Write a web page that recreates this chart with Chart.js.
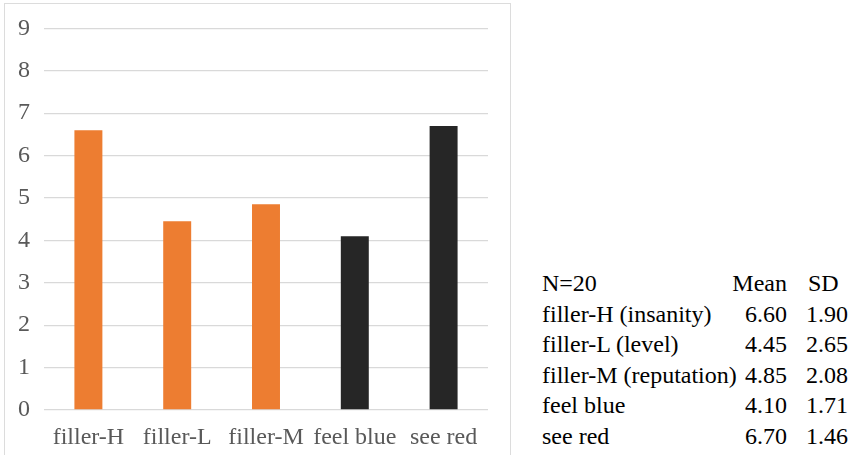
<!DOCTYPE html>
<html>
<head>
<meta charset="utf-8">
<script src="https://cdn.jsdelivr.net/npm/chart.js@4"></script>
<style>
    html, body { margin: 0; padding: 0; background: #fff; overflow: hidden; }
    body { font-family: "Liberation Serif", "Times New Roman", serif; }
    #frame {
        position: absolute; left: 4px; top: 3px;
        width: 505px; height: 480px;
        border: 1.5px solid #dcdcdc;
    }
    #chart_container { position: absolute; left: 0; top: 0; width: 512px; height: 455px; }
    .row {
        position: absolute; left: 542px; width: 312px;
        height: 30px; line-height: 30px; font-size: 24px; color: #000;
    }
    .row span { position: absolute; top: 0; white-space: nowrap; }
</style>
</head>
<body>
<div id="frame"></div>
<div id="chart_container"><canvas id="myChart" width="512" height="455"></canvas></div>
<div id="table"></div>
<script>
const categories = ["filler-H", "filler-L", "filler-M", "feel blue", "see red"];
const means = [6.60, 4.45, 4.85, 4.10, 6.70];
const sds = [1.90, 2.65, 2.08, 1.71, 1.46];
const tableLabels = ["filler-H (insanity)", "filler-L (level)", "filler-M (reputation)", "feel blue", "see red"];
const barColors = ["#ED7D31", "#ED7D31", "#ED7D31", "#262626", "#262626"];
const yTicks = [0, 1, 2, 3, 4, 5, 6, 7, 8, 9];

function buildTable() {
    const table = document.getElementById("table");
    // header row
    const head = document.createElement("div");
    head.className = "row";
    head.style.top = "268px";
    head.innerHTML =
        `<span style="left:0">N=20</span>` +
        `<span style="right:${854 - 787}px">Mean</span>` +
        `<span style="left:${808 - 542}px">SD</span>`;
    table.appendChild(head);

    tableLabels.forEach((label, i) => {
        const div = document.createElement("div");
        div.className = "row";
        div.style.top = (268 + (i + 1) * 30.5) + "px";
        div.innerHTML =
            `<span style="left:0">${label}</span>` +
            `<span style="right:${854 - 787}px">${means[i].toFixed(2)}</span>` +
            `<span style="right:${854 - 848}px">${sds[i].toFixed(2)}</span>`;
        table.appendChild(div);
    });
}

function createChart() {
    const ctx = document.getElementById("myChart").getContext("2d");
    const font = { family: "'Liberation Serif', 'Times New Roman', serif", size: 24 };

    new Chart(ctx, {
        type: "bar",
        data: {
            labels: categories,
            datasets: [
                {
                    data: means,
                    backgroundColor: barColors,
                    borderWidth: 0,
                    categoryPercentage: 1,
                    barPercentage: 0.315
                }
            ]
        },
        options: {
            responsive: false,
            animation: false,
            layout: { padding: { top: 27, right: 24, left: 0, bottom: 0 } },
            plugins: {
                legend: { display: false },
                tooltip: { enabled: false }
            },
            scales: {
                x: {
                    grid: { display: false },
                    border: { display: false },
                    ticks: { color: "#595959", font: font, padding: 5, maxRotation: 0, autoSkip: false },
                    afterFit: (scale) => { scale.height = 45; }
                },
                y: {
                    min: 0,
                    max: 9,
                    afterBuildTicks: (scale) => { scale.ticks = yTicks.map(v => ({ value: v })); },
                    grid: { color: "#d9d9d9", lineWidth: 1.3, drawTicks: false },
                    border: { display: false },
                    ticks: { color: "#595959", font: font, padding: 14 },
                    afterFit: (scale) => { scale.width = 44; }
                }
            }
        }
    });
}

buildTable();
createChart();
</script>
</body>
</html>
